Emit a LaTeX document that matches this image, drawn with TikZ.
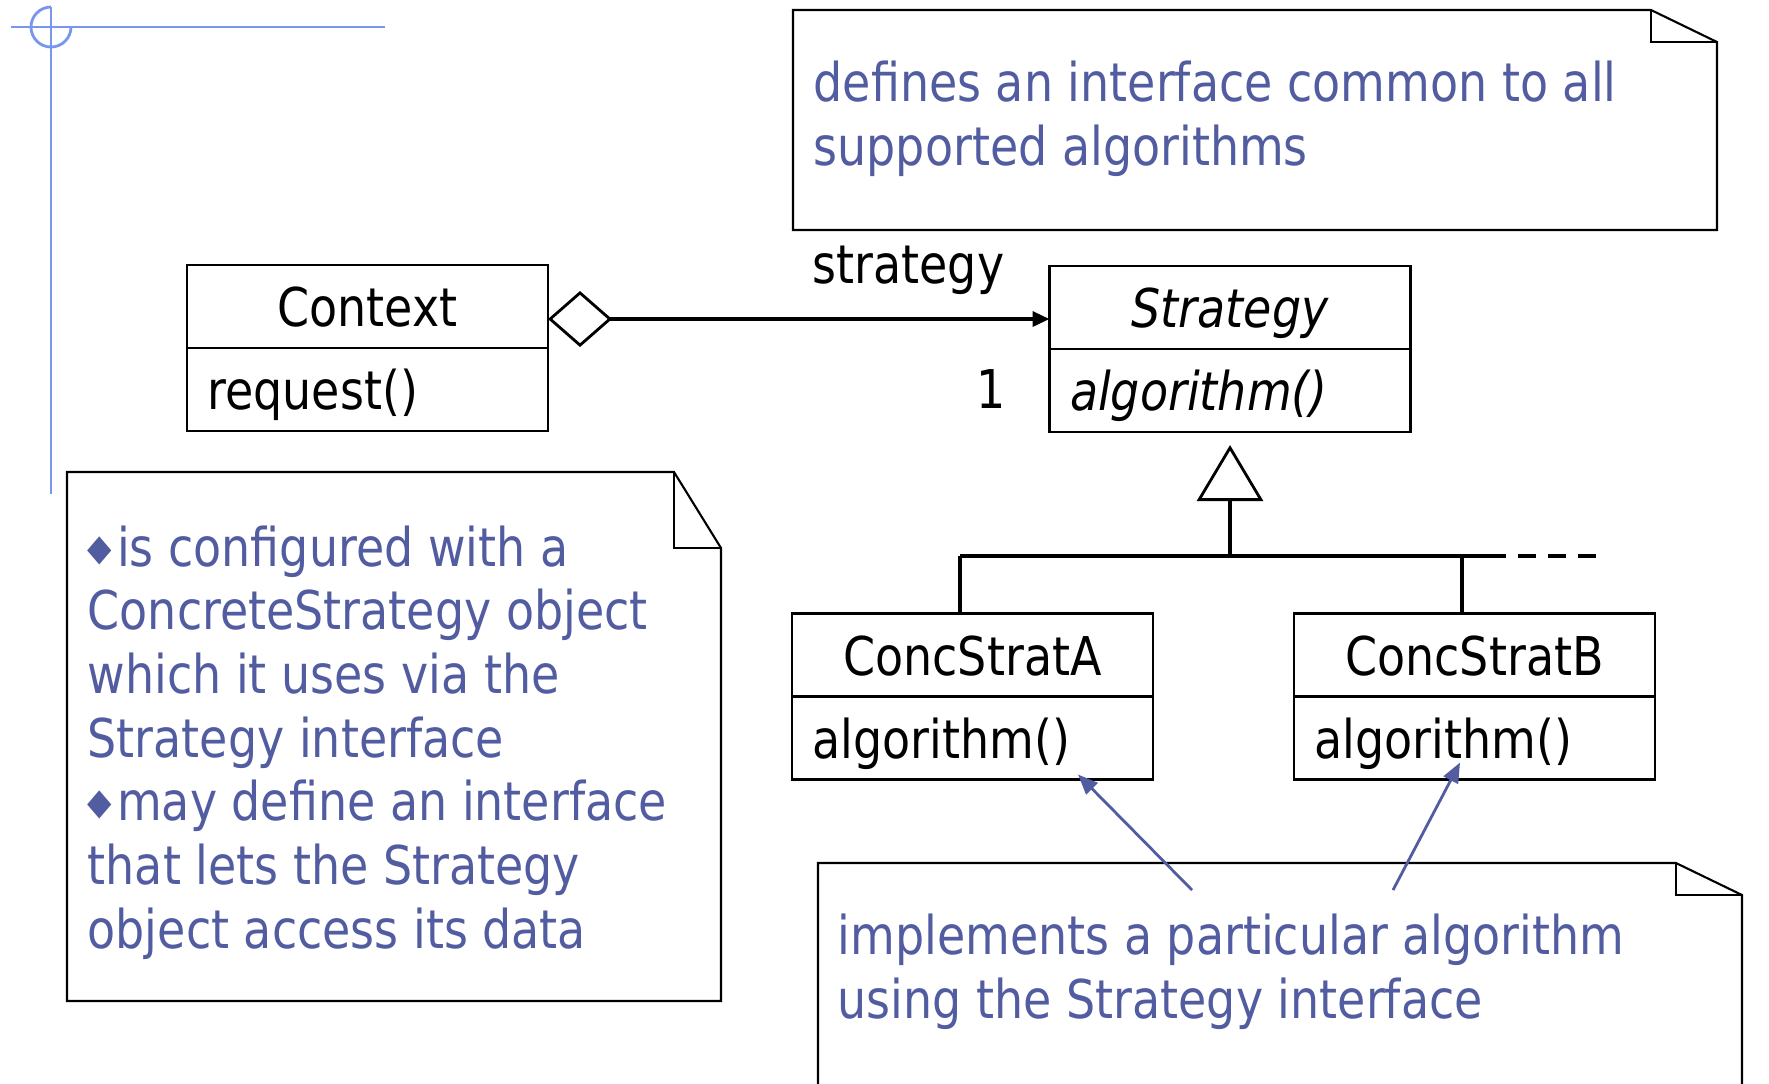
\documentclass[tikz,border=0pt]{standalone}
\usepackage{fontspec}
\setmainfont{DejaVu Sans}[FakeStretch=0.86]
\usetikzlibrary{arrows.meta,positioning}
\definecolor{notetext}{RGB}{82,92,160}
\definecolor{guide}{RGB}{120,150,240}
\newcommand{\umlsize}{\fontsize{15.2pt}{18.1pt}\selectfont}
\newcommand{\bul}{\raisebox{0.6mm}{\fontsize{10.5pt}{10.5pt}\selectfont ◆}\kern0.5mm}

\begin{document}
\begin{tikzpicture}[x=0.1mm,y=-0.1mm,
    cls/.style={draw,line width=0.8pt,font=\umlsize,minimum width=36.1mm,minimum height=8.3mm,
      inner sep=0pt,outer sep=0pt,text height=4mm,text depth=0pt},
    ops/.style={cls,text width=32mm,inner xsep=2.05mm,align=left},
    note/.style={draw,line width=0.6pt,fill=white},
    notetxt/.style={text=notetext,font=\umlsize,anchor=base west,inner sep=0pt,align=left}]
  \useasboundingbox (0,0) rectangle (1769,1083);
  \draw[guide,line width=0.8pt] (11,27) -- (385,27) (51,7) -- (51,494);
  \draw[guide,line width=0.8pt] (51,7) arc[start angle=270,end angle=0,radius=20];

  \draw[note] (793,10) -- (1651,10) -- (1717,42) -- (1717,230) -- (793,230) -- cycle;
  \draw[line width=0.6pt] (1651,10) -- (1651,42) -- (1717,42);
  \node[notetxt] (defnote) at (813,165) {defines an interface common to all\\supported algorithms};

  \draw[note] (67,472) -- (674,472) -- (721,548) -- (721,1001) -- (67,1001) -- cycle;
  \draw[line width=0.6pt] (674,472) -- (674,548) -- (721,548);
  \node[notetxt] (ctxnote) at (87,948) {\bul is configured with a\\ConcreteStrategy object\\which it uses via the\\Strategy interface\\\bul may define an interface\\that lets the Strategy\\object access its data};

  \draw[note] (818,1100) -- (818,863) -- (1676,863) -- (1742,895) -- (1742,1100);
  \draw[line width=0.6pt] (1676,863) -- (1676,895) -- (1742,895);
  \node[notetxt] (implnote) at (837,1018) {implements a particular algorithm\\using the Strategy interface};

  \node[cls] (ctx) at (367.5,306.5) {Context};
  \node[ops,below=0pt of ctx] (ctxops) {request()};
  \node[cls,font=\umlsize\itshape] (strat) at (1230,307.5) {Strategy};
  \node[ops,font=\umlsize\itshape,below=0pt of strat] (stratops) {algorithm()};
  \node[cls] (csa) at (972.5,655) {ConcStratA};
  \node[ops,below=0pt of csa] (csaops) {algorithm()};
  \node[cls] (csb) at (1474.5,655) {ConcStratB};
  \node[ops,below=0pt of csb] (csbops) {algorithm()};

  \draw[line width=1pt,{Diamond[open,length=6.4mm,width=5.6mm,line width=0.8pt]}-{Triangle[length=1.7mm,width=1.5mm]}]
    ([yshift=-1.25mm]ctx.east) -- ([yshift=-1.15mm]strat.west);
  \node[font=\umlsize,anchor=base west,inner sep=0pt] (rolename) at (812,283) {strategy};
  \node[font=\umlsize,anchor=base east,inner sep=0pt] (mult) at (1006,408) {1};

  \coordinate (hub) at (1230,556);
  \coordinate (barA) at (960,556);
  \coordinate (barB) at (1462,556);
  \coordinate (barend) at (1506,556);
  \coordinate (dashstart) at (1518,556);
  \coordinate (dashend) at (1600,556);
  \draw[line width=1.2pt,-{Triangle[open,length=5.6mm,width=6.6mm,line width=0.8pt]},shorten >=1.3mm]
    (hub) -- (stratops.south);
  \draw[line width=1.2pt] (barA) -- (barend);
  \draw[line width=1.2pt,dash pattern=on 1.8mm off 1.2mm] (dashstart) -- (dashend);
  \draw[line width=0.9pt] (barA) -- (barA |- csa.north);
  \draw[line width=1.2pt] (barB) -- (barB |- csb.north);

  \coordinate (fromA) at (1192,890);
  \coordinate (fromB) at (1393,890);
  \draw[notetext,line width=0.8pt,-{Triangle[length=2mm,width=1.6mm]}]
    (fromA) -- ([xshift=-7.5mm,yshift=0.5mm]csaops.south east);
  \draw[notetext,line width=0.8pt,-{Triangle[length=2mm,width=1.6mm]}]
    (fromB) -- ([xshift=-1.45mm,yshift=1.7mm]csbops.south);
\end{tikzpicture}
\end{document}
